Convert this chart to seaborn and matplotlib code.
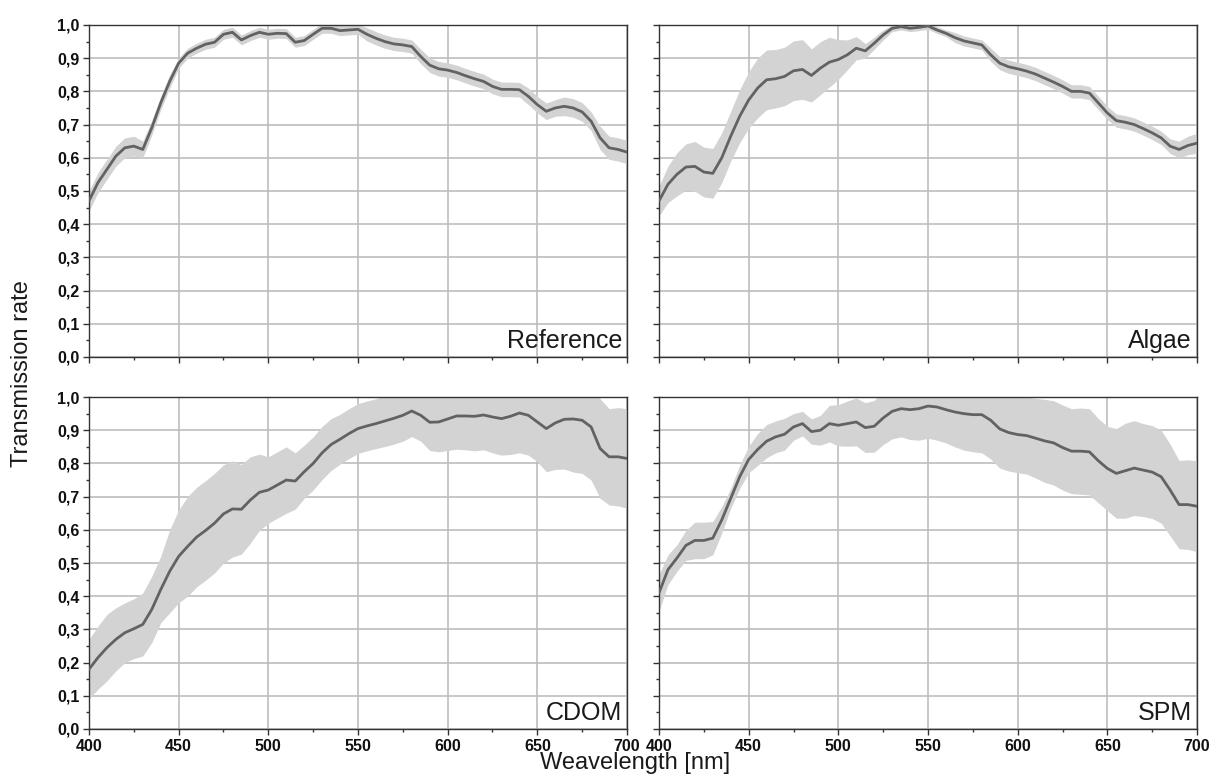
import numpy as np
import pandas as pd
import seaborn as sns
import matplotlib.pyplot as plt
from matplotlib.ticker import MultipleLocator, FuncFormatter

# wavelength grid (nm), 5 nm steps
wavelength = list(range(400, 701, 5))

# mean transmission and half-width of the shaded band, per sample type
ref_mean = [0.47, 0.525, 0.565, 0.605, 0.63, 0.635, 0.625, 0.69, 0.765, 0.83,
            0.885, 0.915, 0.93, 0.942, 0.948, 0.972, 0.978, 0.955, 0.968, 0.978,
            0.972, 0.975, 0.974, 0.948, 0.953, 0.972, 0.99, 0.99, 0.983, 0.985,
            0.987, 0.972, 0.96, 0.95, 0.943, 0.94, 0.935, 0.905, 0.879, 0.868,
            0.864, 0.857, 0.847, 0.838, 0.83, 0.815, 0.806, 0.806, 0.805, 0.785,
            0.76, 0.74, 0.75, 0.755, 0.75, 0.738, 0.71, 0.66, 0.63, 0.625,
            0.617]
ref_sd = [0.03, 0.03, 0.03, 0.03, 0.03, 0.03, 0.025, 0.022, 0.02, 0.02,
          0.015, 0.015, 0.015, 0.015, 0.015, 0.015, 0.015, 0.015, 0.015, 0.015,
          0.015, 0.015, 0.015, 0.015, 0.015, 0.015, 0.015, 0.015, 0.015, 0.015,
          0.015, 0.02, 0.02, 0.02, 0.02, 0.02, 0.02, 0.022, 0.022, 0.022,
          0.022, 0.022, 0.022, 0.022, 0.022, 0.022, 0.022, 0.022, 0.022, 0.025,
          0.025, 0.025, 0.025, 0.028, 0.028, 0.028, 0.028, 0.035, 0.035, 0.035,
          0.035]

algae_mean = [0.47, 0.52, 0.55, 0.572, 0.574, 0.557, 0.553, 0.60, 0.665, 0.725,
              0.774, 0.81, 0.835, 0.838, 0.845, 0.862, 0.866, 0.848, 0.87, 0.888,
              0.896, 0.91, 0.93, 0.922, 0.945, 0.97, 0.99, 0.995, 0.99, 0.993,
              0.997, 0.985, 0.975, 0.962, 0.952, 0.946, 0.94, 0.91, 0.885, 0.874,
              0.868, 0.861, 0.852, 0.84, 0.828, 0.815, 0.80, 0.80, 0.795, 0.765,
              0.735, 0.712, 0.707, 0.70, 0.688, 0.675, 0.66, 0.635, 0.625, 0.637,
              0.644]
algae_sd = [0.045, 0.055, 0.065, 0.07, 0.075, 0.075, 0.075, 0.075, 0.075, 0.08,
            0.085, 0.09, 0.09, 0.088, 0.088, 0.09, 0.09, 0.08, 0.08, 0.075,
            0.06, 0.045, 0.035, 0.022, 0.018, 0.015, 0.01, 0.01, 0.01, 0.01,
            0.01, 0.01, 0.01, 0.015, 0.015, 0.015, 0.015, 0.02, 0.02, 0.02,
            0.02, 0.02, 0.02, 0.02, 0.02, 0.02, 0.02, 0.02, 0.02, 0.02,
            0.02, 0.02, 0.02, 0.02, 0.02, 0.02, 0.02, 0.022, 0.025, 0.028,
            0.03]

cdom_mean = [0.18, 0.215, 0.245, 0.27, 0.29, 0.302, 0.315, 0.36, 0.42, 0.475,
             0.52, 0.55, 0.578, 0.598, 0.62, 0.648, 0.663, 0.662, 0.69, 0.713,
             0.72, 0.735, 0.75, 0.747, 0.775, 0.80, 0.832, 0.857, 0.873, 0.89,
             0.905, 0.913, 0.92, 0.928, 0.936, 0.945, 0.958, 0.945, 0.924, 0.925,
             0.934, 0.943, 0.943, 0.942, 0.946, 0.94, 0.935, 0.942, 0.952, 0.945,
             0.925, 0.905, 0.922, 0.933, 0.934, 0.93, 0.91, 0.845, 0.82, 0.82,
             0.815]
cdom_sd = [0.09, 0.095, 0.10, 0.095, 0.09, 0.09, 0.095, 0.10, 0.10, 0.125,
           0.14, 0.15, 0.15, 0.15, 0.15, 0.148, 0.145, 0.135, 0.13, 0.115,
           0.10, 0.10, 0.10, 0.085, 0.08, 0.08, 0.08, 0.078, 0.075, 0.075,
           0.075, 0.075, 0.075, 0.077, 0.078, 0.078, 0.077, 0.078, 0.085, 0.09,
           0.095, 0.10, 0.102, 0.104, 0.105, 0.108, 0.11, 0.115, 0.12, 0.12,
           0.12, 0.13, 0.14, 0.15, 0.16, 0.16, 0.16, 0.15, 0.145, 0.148,
           0.15]

spm_mean = [0.41, 0.48, 0.515, 0.553, 0.568, 0.568, 0.575, 0.63, 0.695, 0.76,
            0.812, 0.842, 0.867, 0.88, 0.888, 0.91, 0.92, 0.896, 0.90, 0.92,
            0.915, 0.92, 0.925, 0.908, 0.912, 0.937, 0.957, 0.965, 0.962, 0.965,
            0.973, 0.97, 0.962, 0.955, 0.95, 0.947, 0.947, 0.93, 0.904, 0.893,
            0.887, 0.884, 0.876, 0.868, 0.862, 0.848, 0.837, 0.837, 0.835, 0.808,
            0.785, 0.77, 0.778, 0.786, 0.78, 0.774, 0.76, 0.72, 0.676, 0.676,
            0.671]
spm_sd = [0.055, 0.045, 0.04, 0.045, 0.055, 0.055, 0.05, 0.04, 0.03, 0.035,
          0.04, 0.048, 0.05, 0.048, 0.048, 0.04, 0.037, 0.038, 0.045, 0.055,
          0.062, 0.068, 0.072, 0.075, 0.078, 0.08, 0.083, 0.085, 0.09, 0.095,
          0.097, 0.10, 0.10, 0.105, 0.11, 0.112, 0.115, 0.117, 0.118, 0.116,
          0.115, 0.116, 0.12, 0.125, 0.127, 0.128, 0.128, 0.13, 0.13, 0.127,
          0.127, 0.135, 0.143, 0.143, 0.14, 0.14, 0.14, 0.138, 0.133, 0.135,
          0.137]

panels = ["Reference", "Algae", "CDOM", "SPM"]
means = [ref_mean, algae_mean, cdom_mean, spm_mean]
sds = [ref_sd, algae_sd, cdom_sd, spm_sd]

sns.set_style("ticks")
plt.rcParams['font.family'] = ['Liberation Sans', 'DejaVu Sans']

fig, axes = plt.subplots(2, 2, figsize=(12.14, 7.76), dpi=100)
fig.subplots_adjust(left=0.0733, right=0.986, top=0.9678, bottom=0.0606,
                    wspace=0.0595, hspace=0.121)

comma = FuncFormatter(lambda v, pos: "{:.1f}".format(v).replace(".", ","))

for i, ax in enumerate(axes.flat):
    df = pd.DataFrame({"wl": wavelength, "mean": means[i], "sd": sds[i]})
    ax.fill_between(df["wl"], df["mean"] - df["sd"], df["mean"] + df["sd"],
                    color="#d3d3d3", lw=0, zorder=2)
    sns.lineplot(data=df, x="wl", y="mean", ax=ax, color="#626262", lw=2,
                 zorder=3)

    ax.set_xlim(400, 700)
    ax.set_ylim(0, 1)
    ax.xaxis.set_major_locator(MultipleLocator(50))
    ax.xaxis.set_minor_locator(MultipleLocator(25))
    ax.yaxis.set_major_locator(MultipleLocator(0.1))
    ax.yaxis.set_minor_locator(MultipleLocator(0.05))
    ax.yaxis.set_major_formatter(comma)
    ax.grid(True, which="major", color="#bdbdbd", lw=1.2, zorder=1)
    ax.set_axisbelow(True)
    ax.tick_params(which="major", direction="out", length=4, width=1,
                   color="#333333", labelsize=11.5, labelcolor="#111111",
                   pad=3)
    ax.tick_params(which="minor", direction="out", length=2, width=1,
                   color="#333333")
    for lab in ax.get_xticklabels() + ax.get_yticklabels():
        lab.set_fontweight("bold")
    for sp in ax.spines.values():
        sp.set_visible(True)
        sp.set_color("#333333")
        sp.set_linewidth(1)
    ax.set_xlabel("")
    ax.set_ylabel("")
    if i < 2:
        ax.tick_params(labelbottom=False)
    if i % 2 == 1:
        ax.tick_params(labelleft=False)
    ax.text(1 - 5 / 538, 9 / 331, panels[i], transform=ax.transAxes,
            ha="right", va="baseline", fontsize=18, color="#1a1a1a")

fig.text(22 / 1214, 1 - 374 / 776, "Transmission rate", rotation=90,
         ha="center", va="center", fontsize=17, color="#1a1a1a")
fig.text(635 / 1214, 1 - 763 / 776, "Weavelength [nm]",
         ha="center", va="center", fontsize=17, color="#1a1a1a")

fig.savefig("out.png", dpi=100)
